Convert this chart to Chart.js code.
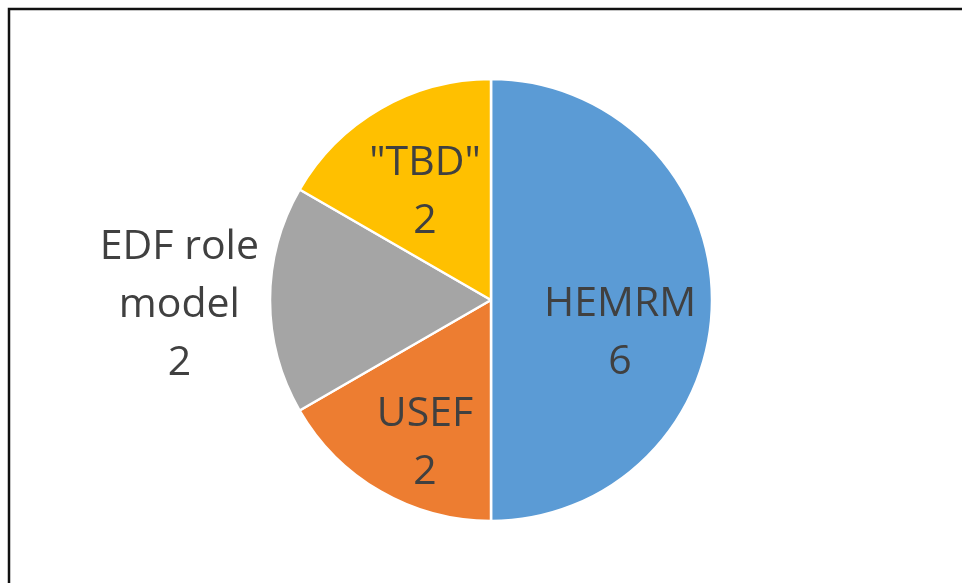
<!DOCTYPE html>
<html>
<head>
<meta charset="utf-8">
<script src="https://cdn.jsdelivr.net/npm/chart.js@4/dist/chart.umd.min.js"></script>
<style>
  html, body { margin: 0; padding: 0; background: #ffffff; }
  #wrap { position: relative; width: 962px; height: 583px; }
</style>
</head>
<body>
<div id="wrap"><canvas id="c" width="962" height="583"></canvas></div>
<script>
// ---- data ----
const categories = ['HEMRM', 'USEF', 'EDF role model', '"TBD"'];
const values = [6, 2, 2, 2];
const labelLines = [['HEMRM'], ['USEF'], ['EDF role', 'model'], ['"TBD"']];
const colors = ['#5B9BD5', '#ED7D31', '#A5A5A5', '#FFC000'];

// ---- label placement (relative to each slice's mid-angle) ----
const labelRadial = [0.584, 0.597, 1.41, 0.597];
const labelNudgeY = [30, 26, 2, 4];

const frame = {
  id: 'frame',
  beforeDraw(chart) {
    const ctx = chart.ctx;
    ctx.save();
    ctx.fillStyle = '#ffffff';
    ctx.fillRect(0, 0, chart.width, chart.height);
    ctx.strokeStyle = '#111111';
    ctx.lineWidth = 2.5;
    ctx.beginPath();
    ctx.moveTo(9, chart.height + 5);
    ctx.lineTo(9, 9);
    ctx.lineTo(chart.width + 5, 9);
    ctx.stroke();
    ctx.restore();
  }
};

const sliceLabels = {
  id: 'sliceLabels',
  afterDatasetsDraw(chart) {
    const ctx = chart.ctx;
    const meta = chart.getDatasetMeta(0);
    const lh = 58;
    const capHalf = 14.5;
    ctx.save();
    ctx.font = '41px "Open Sans", "Liberation Sans", sans-serif';
    ctx.fillStyle = '#404040';
    ctx.textAlign = 'center';
    ctx.textBaseline = 'alphabetic';
    meta.data.forEach((arc, i) => {
      const p = arc.getProps(['x', 'y', 'startAngle', 'endAngle', 'outerRadius'], true);
      const mid = (p.startAngle + p.endAngle) / 2;
      const r = p.outerRadius * labelRadial[i];
      const cx = p.x + Math.cos(mid) * r;
      const cy = p.y + Math.sin(mid) * r + labelNudgeY[i];
      const lines = labelLines[i].concat([String(values[i])]);
      const n = lines.length;
      lines.forEach((t, k) => {
        const y = cy + (k - (n - 1) / 2) * lh + capHalf;
        ctx.fillText(t, cx, y);
      });
    });
    ctx.restore();
  }
};

new Chart(document.getElementById('c'), {
  type: 'pie',
  data: {
    labels: categories,
    datasets: [{
      data: values,
      backgroundColor: colors,
      borderColor: '#ffffff',
      borderWidth: 2.5
    }]
  },
  options: {
    responsive: false,
    animation: false,
    radius: 221,
    layout: { padding: { left: 20, right: 0, top: 17, bottom: 0 } },
    plugins: {
      legend: { display: false },
      tooltip: { enabled: false }
    }
  },
  plugins: [frame, sliceLabels]
});
</script>
</body>
</html>
